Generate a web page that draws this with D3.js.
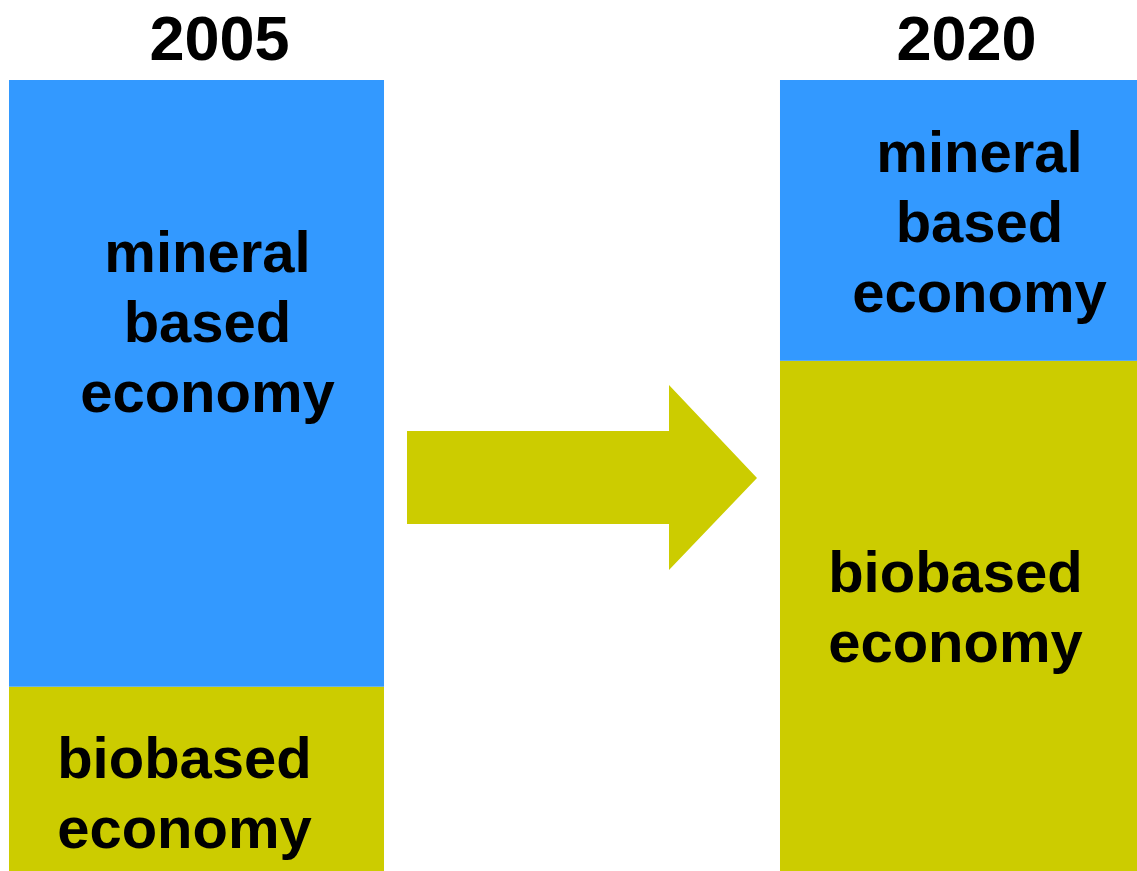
<!DOCTYPE html>
<html>
<head>
<meta charset="utf-8">
<script src="https://cdn.jsdelivr.net/npm/d3@7"></script>
<style>
  html, body { margin: 0; padding: 0; background: #fff; overflow: hidden; }
  text { font-family: "Liberation Sans", Arial, sans-serif; font-weight: bold; fill: #000; }
</style>
</head>
<body>
<div id="chart"></div>
<script>
// data
var years = ["2005", "2020"];
var segments = ["biobased", "mineral"];
var biobasedShare = [23.3, 64.5];
var mineralShare = [76.7, 35.5];
var segmentLabels = {
  mineral: ["mineral", "based", "economy"],
  biobased: ["biobased", "economy"]
};

(function() {
  var width = 1137, height = 871;

  var svg = d3.select("#chart")
    .append("svg")
    .attr("width", width)
    .attr("height", height);

  var xScale = d3.scaleBand().domain(years).range([9, 1155]).paddingInner(0.5136).paddingOuter(0);
  var yScale = d3.scaleLinear().domain([0, 100]).range([871, 80]);
  var colorScale = d3.scaleOrdinal().domain(segments).range(["#cccc00", "#3399ff"]);

  var rows = years.map(function(y, i) {
    return { year: y, biobased: biobasedShare[i], mineral: mineralShare[i] };
  });
  var stacked = d3.stack().keys(segments)(rows);

  // label placement tweaks (first baseline below segment top, horizontal shift)
  var labelLayout = {
    "2005-mineral": { dy: 192, dx: 11 },
    "2005-biobased": { dy: 91, dx: -12 },
    "2020-mineral": { dy: 92, dx: 12 },
    "2020-biobased": { dy: 231, dx: -12 }
  };
  var yearDx = { "2005": 23, "2020": -1 };

  stacked.forEach(function(layer) {
    svg.selectAll("rect." + layer.key)
      .data(layer)
      .enter().append("rect")
      .attr("class", layer.key)
      .attr("x", function(d) { return xScale(d.data.year); })
      .attr("width", xScale.bandwidth())
      .attr("y", function(d) { return yScale(d[1]); })
      .attr("height", function(d) { return yScale(d[0]) - yScale(d[1]); })
      .attr("fill", colorScale(layer.key));

    layer.forEach(function(d) {
      var lay = labelLayout[d.data.year + "-" + layer.key];
      var t = svg.append("text")
        .attr("text-anchor", "middle")
        .style("font-size", "58px")
        .attr("x", xScale(d.data.year) + xScale.bandwidth() / 2 + lay.dx)
        .attr("y", yScale(d[1]) + lay.dy);
      segmentLabels[layer.key].forEach(function(line, i) {
        t.append("tspan")
          .attr("x", xScale(d.data.year) + xScale.bandwidth() / 2 + lay.dx)
          .attr("dy", i === 0 ? 0 : 70)
          .text(line);
      });
    });
  });

  // year headings
  svg.selectAll("text.year")
    .data(years)
    .enter().append("text")
    .attr("class", "year")
    .attr("text-anchor", "middle")
    .style("font-size", "63px")
    .attr("x", function(d) { return xScale(d) + xScale.bandwidth() / 2 + yearDx[d]; })
    .attr("y", 60)
    .text(function(d) { return d; });

  // arrow between the bars
  var arrow = [[407, 431], [669, 431], [669, 385], [757, 478], [669, 570], [669, 524], [407, 524]];
  svg.append("path")
    .attr("d", d3.line()(arrow) + "Z")
    .attr("fill", "#cccc00");
})();
</script>
</body>
</html>
